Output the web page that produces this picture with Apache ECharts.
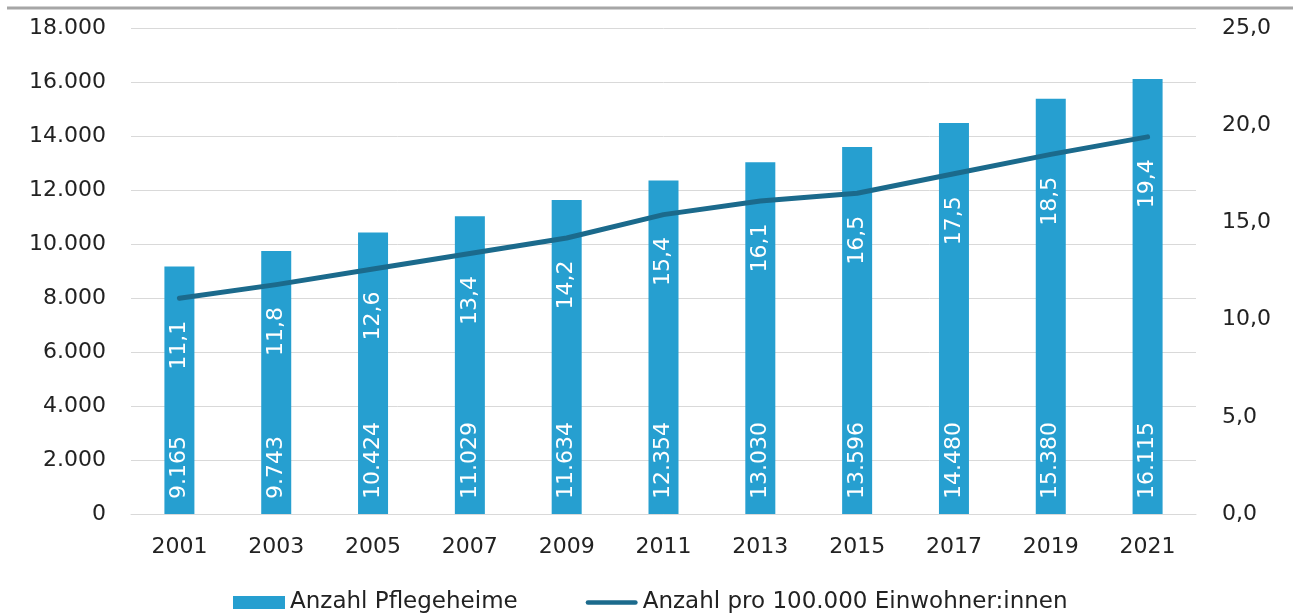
<!DOCTYPE html>
<html>
<head>
<meta charset="utf-8">
<script src="https://cdn.jsdelivr.net/npm/echarts@6/dist/echarts.min.js"></script>
<style>
  html, body { margin: 0; padding: 0; background: #fff; }
  #chart { width: 1293px; height: 614px; }
</style>
</head>
<body>
<div id="chart"></div>
<script>
// Pflegeheime in Deutschland, 2001–2021
const years = ['2001', '2003', '2005', '2007', '2009', '2011', '2013', '2015', '2017', '2019', '2021'];
const heime = [9165, 9743, 10424, 11029, 11634, 12354, 13030, 13596, 14480, 15380, 16115];
const proEinwohner = [11.1, 11.8, 12.6, 13.4, 14.2, 15.4, 16.1, 16.5, 17.5, 18.5, 19.4];

const FONT = 'DejaVu Sans';
const BAR_COLOR = '#269fd0';
const LINE_COLOR = '#1b6a8c';
const fmtThousands = v => String(v).replace(/\B(?=(\d{3})+(?!\d))/g, '.');
const fmtDecimal = v => v.toFixed(1).replace('.', ',');

const chart = echarts.init(document.getElementById('chart'), null, { renderer: 'canvas' });
chart.setOption({
  animation: false,
  textStyle: { fontFamily: FONT },
  grid: { left: 131, right: 97, top: 28, bottom: 100 },
  graphic: [{
    type: 'line',
    shape: { x1: 7, y1: 8, x2: 1293, y2: 8 },
    style: { stroke: '#a6a6a6', lineWidth: 3 }
  }],
  legend: {
    top: 586,
    left: 228,
    itemGap: 68,
    itemWidth: 52,
    itemHeight: 13,
    textStyle: { fontFamily: FONT, fontSize: 23, color: '#222' },
    data: [
      { name: 'Anzahl Pflegeheime', icon: 'rect', itemStyle: { color: BAR_COLOR } },
      {
        name: 'Anzahl pro 100.000 Einwohner:innen',
        icon: 'path://M2.5,0 L54.5,0 A2.5,2.5 0 0 1 54.5,5 L2.5,5 A2.5,2.5 0 0 1 2.5,0 Z',
        itemStyle: { color: LINE_COLOR, opacity: 1, borderWidth: 0 }
      }
    ]
  },
  xAxis: {
    type: 'category',
    data: years,
    axisTick: { show: false },
    axisLine: { lineStyle: { color: '#d9d9d9', width: 1 } },
    axisLabel: { color: '#222', fontSize: 22, fontFamily: FONT, margin: 22 }
  },
  yAxis: [{
    type: 'value',
    min: 0, max: 18000, interval: 2000,
    axisLabel: { color: '#222', fontSize: 22, fontFamily: FONT, margin: 25, formatter: fmtThousands },
    splitLine: { lineStyle: { color: '#d9d9d9', width: 1 } },
    axisLine: { show: false }, axisTick: { show: false }
  }, {
    type: 'value',
    min: 0, max: 25, interval: 5,
    axisLabel: { color: '#222', fontSize: 22, fontFamily: FONT, margin: 26, formatter: fmtDecimal },
    splitLine: { show: false },
    axisLine: { show: false }, axisTick: { show: false }
  }],
  series: [{
    name: 'Anzahl Pflegeheime',
    type: 'bar',
    data: heime,
    yAxisIndex: 0,
    barWidth: 30,
    itemStyle: { color: BAR_COLOR },
    label: {
      show: true,
      position: 'insideBottom',
      rotate: 90,
      align: 'left',
      verticalAlign: 'middle',
      distance: 15,
      color: '#fff',
      fontSize: 22,
      fontFamily: FONT,
      formatter: p => fmtThousands(p.value)
    },
    z: 2
  }, {
    name: 'Anzahl pro 100.000 Einwohner:innen',
    type: 'line',
    data: proEinwohner,
    yAxisIndex: 1,
    symbol: 'circle',
    symbolSize: 1,
    showSymbol: true,
    lineStyle: { color: LINE_COLOR, width: 5, cap: 'round', join: 'round' },
    itemStyle: { color: 'rgba(0,0,0,0)', borderWidth: 0 },
    label: {
      show: true,
      position: 'bottom',
      rotate: 90,
      align: 'right',
      verticalAlign: 'middle',
      distance: 22,
      color: '#fff',
      fontSize: 22,
      fontFamily: FONT,
      formatter: p => fmtDecimal(p.value)
    },
    z: 3
  }]
});
</script>
</body>
</html>
